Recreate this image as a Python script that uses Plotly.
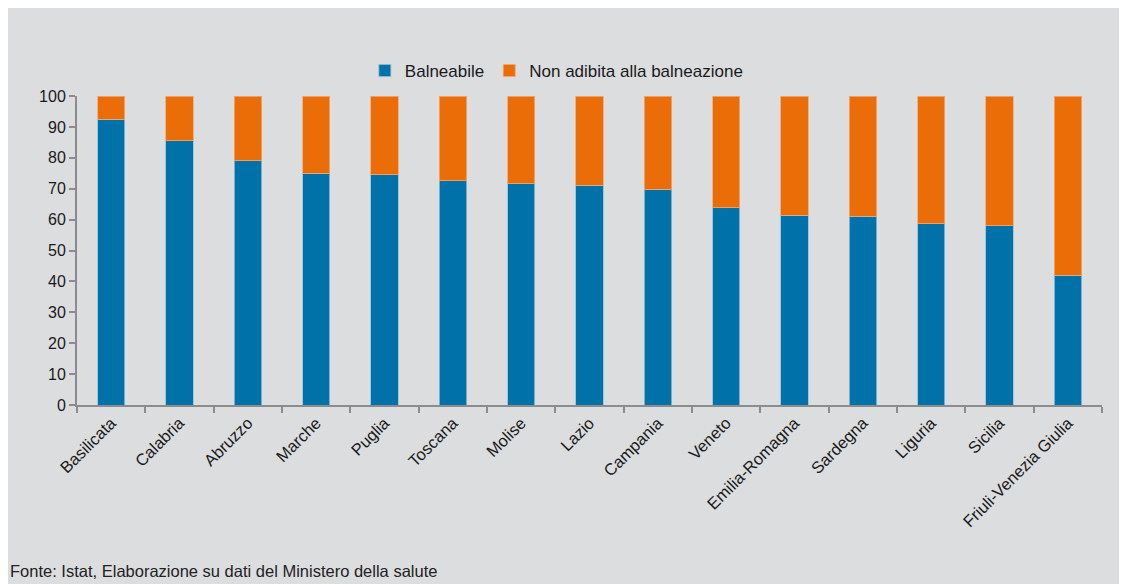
import plotly.graph_objects as go

regions = ["Basilicata", "Calabria", "Abruzzo", "Marche", "Puglia", "Toscana", "Molise",
           "Lazio", "Campania", "Veneto", "Emilia-Romagna", "Sardegna", "Liguria",
           "Sicilia", "Friuli-Venezia Giulia"]
balneabile = [92.4, 85.6, 79.1, 75.0, 74.5, 72.6, 71.6, 71.1, 69.8, 63.9, 61.4, 61.1, 58.6, 58.0, 42.0]
non_adibita = [round(100 - v, 1) for v in balneabile]
y_ticks = [0, 10, 20, 30, 40, 50, 60, 70, 80, 90, 100]

BLUE = "#0072AA"
ORANGE = "#EB6D07"
BG = "#DCDDDF"
AXIS = "#8C8C8C"
FONT = "Liberation Sans, Arial, sans-serif"
TXT = "#1a1a1a"

W, H = 1127, 584
ML, MR, MT, MB = 69, 33, 88, 187
PW, PH = W - ML - MR, H - MT - MB

fig = go.Figure()
fig.add_trace(go.Bar(x=regions, y=balneabile, name="Balneabile",
                     marker=dict(color=BLUE, line=dict(color="rgba(150,190,215,0.8)", width=1))))
fig.add_trace(go.Bar(x=regions, y=non_adibita, name="Non adibita alla balneazione",
                     marker=dict(color=ORANGE, line=dict(color="rgba(240,170,120,0.8)", width=1))))

fig.update_layout(
    barmode="stack",
    bargap=0.6,
    width=W, height=H,
    paper_bgcolor=BG, plot_bgcolor=BG,
    margin=dict(l=ML, r=MR, t=MT, b=MB, autoexpand=False),
    font=dict(family=FONT, size=16, color=TXT),
    legend=dict(orientation="h", xref="container", x=0.487, xanchor="center",
                yref="container", y=1 - 63 / H, yanchor="middle",
                font=dict(size=17, color=TXT), itemwidth=30,
                traceorder="normal", bgcolor="rgba(0,0,0,0)"),
    showlegend=True,
)

fig.update_xaxes(
    showline=True, linecolor=AXIS, linewidth=2,
    ticks="outside", tickson="boundaries", ticklen=6, tickcolor=AXIS, tickwidth=2,
    tickangle=-45, tickfont=dict(size=16.5, family=FONT, color=TXT),
    showgrid=False, zeroline=False,
)
fig.update_yaxes(
    range=[0, 100], tickvals=y_ticks,
    showline=True, linecolor=AXIS, linewidth=2,
    ticks="outside", ticklen=6, tickcolor=AXIS, tickwidth=2,
    tickfont=dict(size=16, family=FONT, color=TXT),
    showgrid=False, zeroline=False,
)

fig.add_annotation(text="Fonte: Istat, Elaborazione su dati del Ministero della salute",
                   xref="paper", yref="paper", x=-ML / PW, y=-166 / PH,
                   xanchor="left", yanchor="middle", showarrow=False,
                   font=dict(family=FONT, size=16.5, color="#222"))

fig.write_html("out.html")
